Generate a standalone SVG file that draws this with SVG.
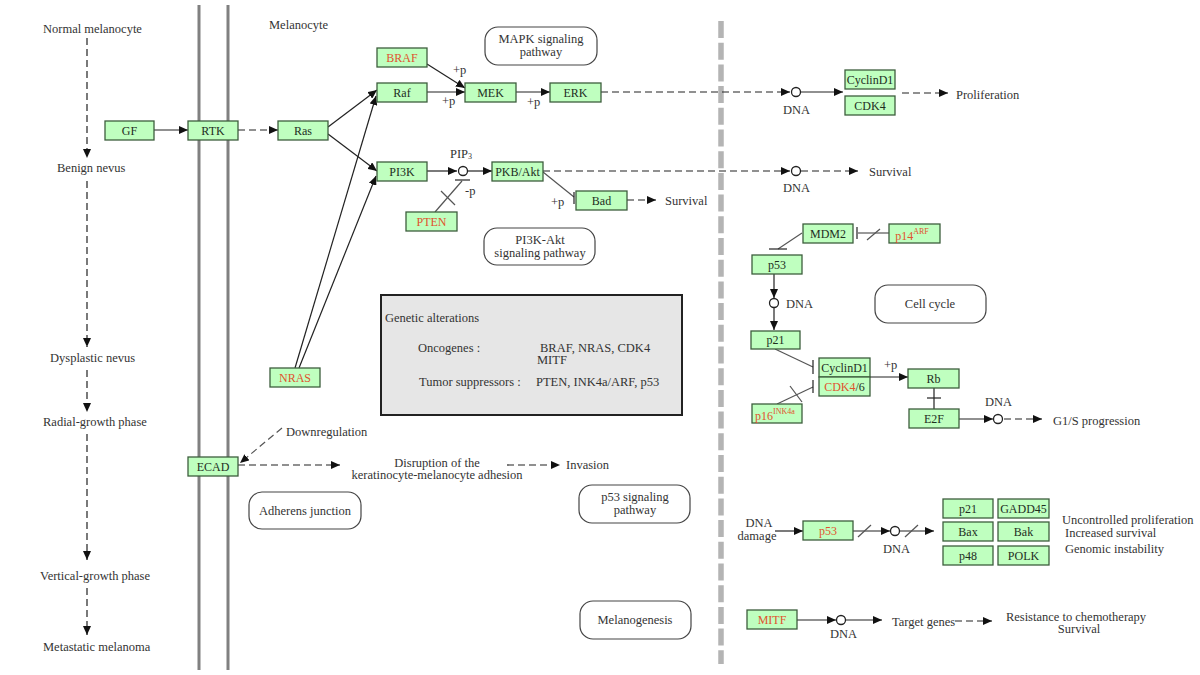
<svg xmlns="http://www.w3.org/2000/svg" width="1200" height="675" viewBox="0 0 1200 675">
<style>
.n rect{fill:#bfffbf;stroke:#3d5e3d;stroke-width:1.3}
.n text{font-family:"Liberation Serif",serif;font-size:12px;fill:#1e2e1e;text-anchor:middle}
.n .r,.r{fill:#e0532e}
.l{font-family:"Liberation Serif",serif;font-size:12.5px;fill:#333}
.lm{font-family:"Liberation Serif",serif;font-size:12.5px;fill:#333;text-anchor:middle}
.e{stroke:#222;stroke-width:1.2;fill:none}
.g{stroke:#555;stroke-width:1.2;fill:none}
.d{stroke-dasharray:7,4}
.a{marker-end:url(#ah)}
.c{fill:#fff;stroke:#222;stroke-width:1.3}
.p{fill:#fff;stroke:#444;stroke-width:1.2}
</style>
<defs>
<marker id="ah" markerUnits="userSpaceOnUse" markerWidth="10" markerHeight="8" refX="9" refY="4" orient="auto">
<path d="M0,0 L9,4 L0,8 z" fill="#111"/>
</marker>
</defs>
<rect width="1200" height="675" fill="#fff"/>

<!-- membranes and separator -->
<line x1="199" y1="5" x2="199" y2="670" stroke="#808080" stroke-width="3"/>
<line x1="228" y1="5" x2="228" y2="670" stroke="#808080" stroke-width="3"/>
<line x1="721" y1="21" x2="721" y2="664" stroke="#b4b4b4" stroke-width="5.5" stroke-dasharray="17,4.7"/>

<!-- stage labels -->
<g id="stages">
<text class="l" x="43" y="33">Normal melanocyte</text>
<text class="l" x="57" y="172">Benign nevus</text>
<text class="l" x="50" y="362">Dysplastic nevus</text>
<text class="l" x="43" y="426">Radial-growth phase</text>
<text class="l" x="40" y="580">Vertical-growth phase</text>
<text class="l" x="43" y="651">Metastatic melanoma</text>
<text class="l" x="269" y="29">Melanocyte</text>
</g>

<!-- pathway map boxes -->
<g id="map-mapk"><rect class="p" x="485" y="27" width="112" height="38" rx="13"/><text class="lm" x="541" y="43">MAPK signaling</text><text class="lm" x="541" y="56">pathway</text></g>
<g id="map-pi3k"><rect class="p" x="484" y="228" width="111" height="37" rx="13"/><text class="lm" x="540" y="244">PI3K-Akt</text><text class="lm" x="540" y="257">signaling pathway</text></g>
<g id="map-adherens"><rect class="p" x="249" y="492" width="112" height="37" rx="13"/><text class="lm" x="305" y="515">Adherens junction</text></g>
<g id="map-p53"><rect class="p" x="579" y="485" width="111" height="38" rx="13"/><text class="lm" x="635" y="501">p53 signaling</text><text class="lm" x="635" y="514">pathway</text></g>
<g id="map-melanogenesis"><rect class="p" x="580" y="601" width="111" height="38" rx="13"/><text class="lm" x="635" y="624">Melanogenesis</text></g>
<g id="map-cellcycle"><rect class="p" x="875" y="285" width="111" height="38" rx="13"/><text class="lm" x="930" y="308">Cell cycle</text></g>

<!-- genetic alterations -->
<g id="genetic-alterations">
<rect x="381" y="295" width="301" height="120" fill="#e6e6e6" stroke="#222" stroke-width="2"/>
<text class="l" x="385" y="322">Genetic alterations</text>
<text class="l" x="418" y="352">Oncogenes :</text>
<text class="l" x="540" y="352">BRAF, NRAS, CDK4</text>
<text class="l" x="537" y="364">MITF</text>
<text class="l" x="419" y="386">Tumor suppressors :</text>
<text class="l" x="536" y="386">PTEN, INK4a/ARF, p53</text>
</g>

<!-- connectors -->
<g id="connectors">
<!-- stage arrows -->
<line class="e d a" x1="87" y1="38" x2="87" y2="158"/>
<line class="e d a" x1="87" y1="181" x2="87" y2="347"/>
<line class="e d a" x1="87" y1="370" x2="87" y2="412"/>
<line class="e d a" x1="87" y1="434" x2="87" y2="560"/>
<line class="e d a" x1="87" y1="588" x2="87" y2="635"/>

<line class="e a" x1="154" y1="130" x2="188" y2="130"/>
<line class="e d a" x1="238" y1="130" x2="278" y2="130"/>
<line class="e a" x1="328" y1="127" x2="377" y2="90"/>
<line class="e a" x1="328" y1="134" x2="377" y2="171"/>
<line class="e a" x1="295" y1="368" x2="376" y2="96"/>
<line class="e a" x1="299" y1="368" x2="376" y2="176"/>
<line class="e a" x1="427" y1="64" x2="465" y2="88"/>
<line class="e a" x1="427" y1="92" x2="465" y2="92"/>
<line class="e a" x1="516" y1="92" x2="550" y2="92"/>
<line class="e d a" x1="601" y1="92" x2="790" y2="92"/>
<line class="e a" x1="801" y1="92" x2="843" y2="92"/>
<line class="e d a" x1="902" y1="93" x2="948" y2="93"/>

<line class="e a" x1="427" y1="171" x2="457" y2="171"/>
<line class="e a" x1="468" y1="171" x2="492" y2="171"/>
<line class="g" x1="435" y1="212" x2="462" y2="181"/>
<line class="e" x1="455" y1="180" x2="470" y2="180"/>
<line class="g" x1="441" y1="191" x2="455" y2="205"/>
<line class="g" x1="543" y1="172" x2="574" y2="197"/>
<line class="e" x1="574" y1="192" x2="574" y2="204"/>
<line class="e d a" x1="627" y1="200" x2="656" y2="200"/>
<line class="e d a" x1="543" y1="171" x2="790" y2="171"/>
<line class="e d a" x1="801" y1="171" x2="858" y2="171"/>

<!-- ECAD -->
<line class="g d a" x1="282" y1="428" x2="240" y2="463"/>
<line class="e d a" x1="238" y1="465" x2="340" y2="465"/>
<line class="e d a" x1="507" y1="465" x2="560" y2="465"/>

<!-- cell cycle -->
<line class="g" x1="802" y1="233" x2="778" y2="249"/>
<line class="e" x1="769" y1="249" x2="787" y2="249"/>
<line class="g" x1="858" y1="233" x2="889" y2="233"/>
<line class="e" x1="857" y1="227" x2="857" y2="239"/>
<line class="g" x1="867" y1="240" x2="880" y2="229"/>
<line class="e a" x1="774" y1="274" x2="774" y2="298"/>
<line class="e a" x1="774" y1="308" x2="774" y2="330"/>
<line class="g" x1="775" y1="349" x2="813" y2="367"/>
<line class="e" x1="813" y1="360" x2="813" y2="374"/>
<line class="g" x1="777" y1="404" x2="813" y2="387"/>
<line class="e" x1="813" y1="380" x2="813" y2="393"/>
<line class="g" x1="790" y1="386" x2="802" y2="402"/>
<line class="e a" x1="870" y1="377" x2="908" y2="377"/>
<line class="e" x1="934" y1="388" x2="934" y2="409"/>
<line class="e" x1="927" y1="398" x2="941" y2="398"/>
<line class="e a" x1="959" y1="419" x2="993" y2="419"/>
<line class="e d a" x1="1004" y1="419" x2="1042" y2="419"/>

<!-- p53 bottom -->
<line class="e a" x1="775" y1="531" x2="803" y2="531"/>
<line class="e a" x1="853" y1="531" x2="890" y2="531"/>
<line class="g" x1="858" y1="537" x2="871" y2="525"/>
<line class="e a" x1="900" y1="531" x2="934" y2="531"/>
<line class="g" x1="905" y1="537" x2="918" y2="525"/>

<!-- MITF -->
<line class="e a" x1="797" y1="620" x2="836" y2="620"/>
<line class="e a" x1="846" y1="620" x2="882" y2="620"/>
<line class="e d a" x1="955" y1="621" x2="992" y2="621"/>

<!-- DNA circles -->
<circle class="c" cx="796" cy="92" r="4.5"/>
<circle class="c" cx="796" cy="171" r="4.5"/>
<circle class="c" cx="463" cy="171" r="4.5"/>
<circle class="c" cx="774" cy="303" r="4.5"/>
<circle class="c" cx="998" cy="419" r="4.5"/>
<circle class="c" cx="895" cy="531" r="4.5"/>
<circle class="c" cx="841" cy="620" r="4.5"/>
</g>

<!-- edge labels -->
<g id="labels">
<text class="l" x="453" y="74" font-size="11">+p</text>
<text class="l" x="442" y="105" font-size="11">+p</text>
<text class="l" x="527" y="106" font-size="11">+p</text>
<text class="l" x="450" y="158" font-size="11">PIP<tspan font-size="8" dy="1">3</tspan></text>
<text class="l" x="465" y="195" font-size="11">-p</text>
<text class="l" x="551" y="206" font-size="11">+p</text>
<text class="l" x="665" y="205">Survival</text>
<text class="l" x="783" y="114">DNA</text>
<text class="l" x="956" y="99">Proliferation</text>
<text class="l" x="783" y="192">DNA</text>
<text class="l" x="869" y="176">Survival</text>
<text class="l" x="286" y="436">Downregulation</text>
<text class="lm" x="437" y="467">Disruption of the</text>
<text class="lm" x="437" y="479">keratinocyte-melanocyte adhesion</text>
<text class="l" x="566" y="469">Invasion</text>
<text class="l" x="786" y="308">DNA</text>
<text class="l" x="884" y="369" font-size="11">+p</text>
<text class="l" x="985" y="406">DNA</text>
<text class="l" x="1053" y="425">G1/S progression</text>
<text class="lm" x="759" y="527">DNA</text>
<text class="lm" x="757" y="540">damage</text>
<text class="l" x="883" y="553">DNA</text>
<text class="l" x="1062" y="524">Uncontrolled proliferation</text>
<text class="l" x="1065" y="537">Increased survival</text>
<text class="l" x="1065" y="553">Genomic instability</text>
<text class="l" x="830" y="638">DNA</text>
<text class="l" x="892" y="626">Target genes</text>
<text class="lm" x="1076" y="621">Resistance to chemotherapy</text>
<text class="lm" x="1079" y="633">Survival</text>
</g>

<!-- nodes -->
<g id="GF" class="n"><rect x="105" y="121" width="49" height="19"/><text x="129.5" y="134.5">GF</text></g>
<g id="RTK" class="n"><rect x="188" y="121" width="50" height="19"/><text x="213" y="134.5">RTK</text></g>
<g id="Ras" class="n"><rect x="278" y="121" width="50" height="19"/><text x="303" y="134.5">Ras</text></g>
<g id="BRAF" class="n"><rect x="377" y="48" width="50" height="19"/><text class="r" x="402" y="61.5">BRAF</text></g>
<g id="Raf" class="n"><rect x="377" y="83" width="50" height="19"/><text x="402" y="96.5">Raf</text></g>
<g id="MEK" class="n"><rect x="465" y="83" width="51" height="19"/><text x="490.5" y="96.5">MEK</text></g>
<g id="ERK" class="n"><rect x="550" y="83" width="51" height="19"/><text x="575.5" y="96.5">ERK</text></g>
<g id="PI3K" class="n"><rect x="377" y="162" width="50" height="19"/><text x="402" y="175.5">PI3K</text></g>
<g id="PKBAkt" class="n"><rect x="492" y="162" width="51" height="19"/><text x="517.5" y="175.5">PKB/Akt</text></g>
<g id="Bad" class="n"><rect x="576" y="191" width="51" height="19"/><text x="601.5" y="204.5">Bad</text></g>
<g id="PTEN" class="n"><rect x="406" y="212" width="51" height="19"/><text class="r" x="431.5" y="225.5">PTEN</text></g>
<g id="NRAS" class="n"><rect x="270" y="368" width="50" height="19"/><text class="r" x="295" y="381.5">NRAS</text></g>
<g id="ECAD" class="n"><rect x="188" y="457" width="50" height="19"/><text x="213" y="470.5">ECAD</text></g>
<g id="CyclinD1a" class="n"><rect x="845" y="70" width="50" height="19"/><text x="870" y="83.5">CyclinD1</text></g>
<g id="CDK4a" class="n"><rect x="845" y="96" width="50" height="19"/><text x="870" y="109.5">CDK4</text></g>
<g id="MDM2" class="n"><rect x="803" y="224" width="50" height="19"/><text x="828" y="237.5">MDM2</text></g>
<g id="p14ARF" class="n"><rect x="889" y="224" width="51" height="19"/><text class="r" x="912" y="240">p14<tspan font-size="8" dy="-6">ARF</tspan></text></g>
<g id="p53a" class="n"><rect x="752" y="255" width="50" height="19"/><text x="777" y="268.5">p53</text></g>
<g id="p21a" class="n"><rect x="751" y="331" width="49" height="18"/><text x="775.5" y="344">p21</text></g>
<g id="CyclinD1b" class="n"><rect x="819" y="358" width="51" height="19"/><text x="844.5" y="371.5">CyclinD1</text></g>
<g id="CDK46" class="n"><rect x="819" y="377" width="51" height="19"/><text x="844.5" y="390.5"><tspan class="r">CDK4</tspan>/6</text></g>
<g id="Rb" class="n"><rect x="908" y="369" width="51" height="19"/><text x="933.5" y="382.5">Rb</text></g>
<g id="E2F" class="n"><rect x="909" y="409" width="50" height="19"/><text x="934" y="422.5">E2F</text></g>
<g id="p16INK4a" class="n"><rect x="752" y="404" width="50" height="19"/><text class="r" x="775" y="420">p16<tspan font-size="8" dy="-6">INK4a</tspan></text></g>
<g id="p53b" class="n"><rect x="803" y="521" width="50" height="19"/><text class="r" x="828" y="534.5">p53</text></g>
<g id="p21b" class="n"><rect x="943" y="499" width="50" height="19"/><text x="968" y="512.5">p21</text></g>
<g id="GADD45" class="n"><rect x="998" y="499" width="51" height="19"/><text x="1023.5" y="512.5">GADD45</text></g>
<g id="Bax" class="n"><rect x="943" y="522" width="50" height="19"/><text x="968" y="535.5">Bax</text></g>
<g id="Bak" class="n"><rect x="998" y="522" width="51" height="19"/><text x="1023.5" y="535.5">Bak</text></g>
<g id="p48" class="n"><rect x="943" y="546" width="50" height="19"/><text x="968" y="559.5">p48</text></g>
<g id="POLK" class="n"><rect x="998" y="546" width="51" height="19"/><text x="1023.5" y="559.5">POLK</text></g>
<g id="MITF" class="n"><rect x="747" y="610" width="50" height="19"/><text class="r" x="772" y="623.5">MITF</text></g>
</svg>
